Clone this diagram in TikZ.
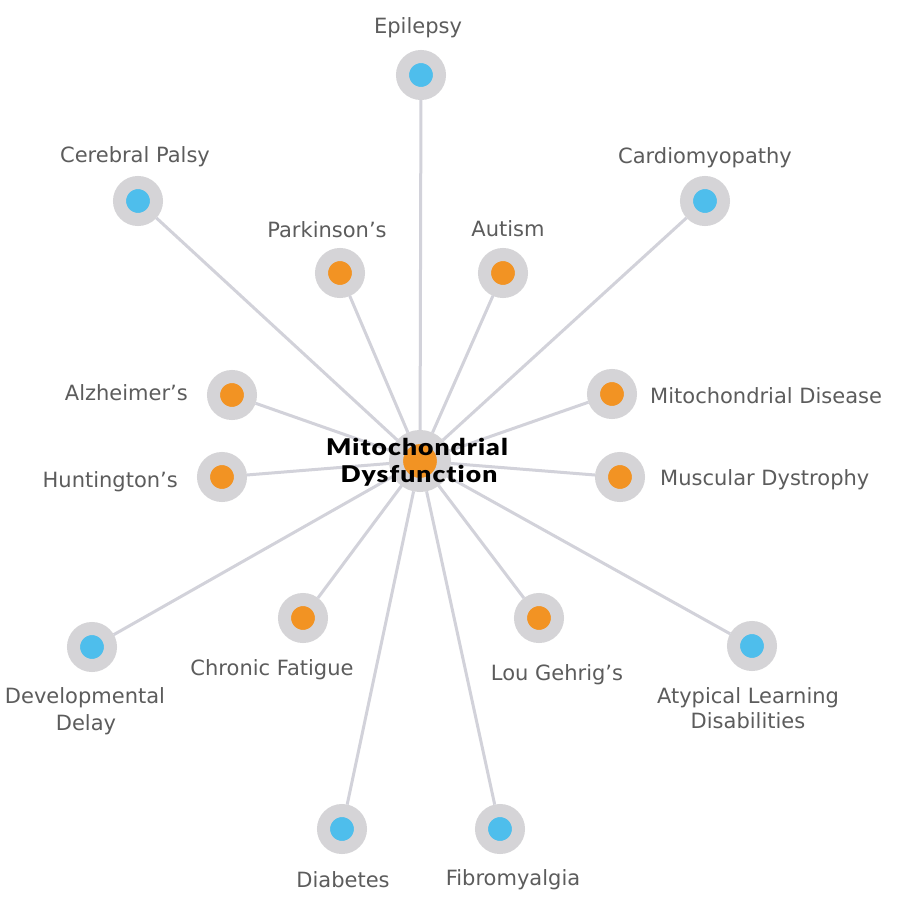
\documentclass[tikz,border=0pt]{standalone}
\usepackage{fontspec}
\setmainfont{DejaVu Sans}
\newfontfamily\centerfont{Lato Black}[Ligatures=NoCommon, LetterSpace=4]
\definecolor{ringgray}{HTML}{D5D4D7}
\definecolor{linegray}{HTML}{D2D2DA}
\definecolor{dotblue}{HTML}{4EBEEC}
\definecolor{dotorange}{HTML}{F29323}
\definecolor{txtgray}{HTML}{5C5C5C}
\tikzset{
  outer/.style={circle, draw=ringgray, line width=13pt, minimum size=37pt, inner sep=0pt},
  bluedot/.style={outer, fill=dotblue},
  orangedot/.style={outer, fill=dotorange},
  hub/.style={circle, draw=ringgray, line width=14pt, minimum size=48pt, inner sep=0pt, fill=dotorange},
  link/.style={draw=linegray, line width=3pt},
  lbl/.style={text=txtgray, font=\fontsize{21}{25}\selectfont, inner sep=0pt, anchor=base},
  hubtext/.style={text=black, font=\centerfont\fontsize{23}{27}\selectfont, inner sep=0pt, anchor=base}
}
\begin{document}
\begin{tikzpicture}[x=1pt,y=-1pt]
\path[fill=white] (0,0) rectangle (900,900);
\useasboundingbox (0,0) rectangle (900,900);
% nodes
\node[hub] (hub) at (420,461) {};
\node[bluedot] (ep) at (421,75) {};
\node[bluedot] (cp) at (138,201) {};
\node[bluedot] (cm) at (705,201) {};
\node[orangedot] (pk) at (340,273) {};
\node[orangedot] (au) at (503,273) {};
\node[orangedot] (al) at (232,395) {};
\node[orangedot] (md) at (612,394) {};
\node[orangedot] (hu) at (222,477) {};
\node[orangedot] (mu) at (620,477) {};
\node[orangedot] (cf) at (303,618) {};
\node[orangedot] (lg) at (539,618) {};
\node[bluedot] (dd) at (92,647) {};
\node[bluedot] (ald) at (752,646) {};
\node[bluedot] (db) at (342,829) {};
\node[bluedot] (fm) at (500,829) {};
% connectors
\foreach \n in {ep,cp,cm,pk,au,al,md,hu,mu,cf,lg,dd,ald,db,fm}{
  \path[link] (hub) -- (\n);
}
% labels
\node[lbl] (tep) at (418,33) {Epilepsy};
\node[lbl] (tcp) at (135,162) {Cerebral Palsy};
\node[lbl] (tcm) at (705,163) {Cardiomyopathy};
\node[lbl] (tpk) at (327,237) {Parkinson’s};
\node[lbl] (tau) at (508,236) {Autism};
\node[lbl, anchor=base east] (tal) at (188,400) {Alzheimer’s};
\node[lbl, anchor=base west] (tmd) at (650,403) {Mitochondrial Disease};
\node[lbl, anchor=base east] (thu) at (178,487) {Huntington’s};
\node[lbl, anchor=base west] (tmu) at (660,485) {Muscular Dystrophy};
\node[lbl] (tcf) at (272,675) {Chronic Fatigue};
\node[lbl] (tlg) at (557,680) {Lou Gehrig’s};
\node[lbl] (tdd1) at (85,703) {Developmental};
\node[lbl] (tdd2) at (86,730) {Delay};
\node[lbl] (tald1) at (748,703) {Atypical Learning};
\node[lbl] (tald2) at (748,728) {Disabilities};
\node[lbl] (tdb) at (343,887) {Diabetes};
\node[lbl] (tfm) at (513,885) {Fibromyalgia};
\node[hubtext] (th1) at (417,455) {\scalebox{1.15}[1]{Mitochondrial}};
\node[hubtext] (th2) at (419,482) {\scalebox{1.15}[1]{Dysfunction}};
\end{tikzpicture}
\end{document}
